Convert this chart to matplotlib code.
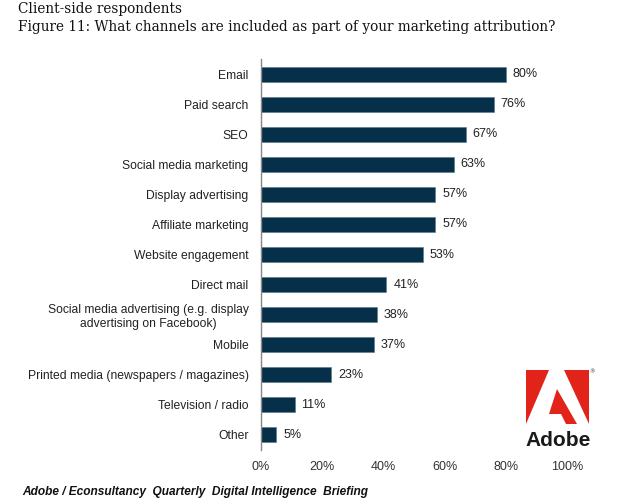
import matplotlib
matplotlib.use("Agg")
import matplotlib.pyplot as plt
from matplotlib.patches import Polygon

categories = ["Email", "Paid search", "SEO", "Social media marketing",
              "Display advertising", "Affiliate marketing", "Website engagement",
              "Direct mail", "Social media advertising (e.g. display\nadvertising on Facebook)",
              "Mobile", "Printed media (newspapers / magazines)", "Television / radio", "Other"]
values = [80, 76, 67, 63, 57, 57, 53, 41, 38, 37, 23, 11, 5]
xticks = [0, 20, 40, 60, 80, 100]
xticklabels = ["0%", "20%", "40%", "60%", "80%", "100%"]

W, H = 622, 501
fig = plt.figure(figsize=(W / 100, H / 100), dpi=100)
fig.patch.set_facecolor("white")

ax = fig.add_axes([261 / W, 1 - 450 / H, (567 - 261) / W, (450 - 59) / H])
y = list(range(len(categories)))
ax.barh(y, values, height=0.5, color="#06304a", edgecolor="#5a7585", linewidth=0.4)
ax.set_ylim(len(categories) - 0.5, -0.5)
ax.set_xlim(0, 100)
ax.set_yticks(y)
ax.set_yticklabels(categories, fontsize=8.75, family="Liberation Sans", color="#222222",
                   multialignment="center")
ax.set_xticks(xticks)
ax.set_xticklabels(xticklabels, fontsize=9, family="Liberation Sans", color="#333333")
ax.tick_params(axis="y", length=0, pad=9)
ax.tick_params(axis="x", length=0, pad=8)
for s in ["top", "right", "bottom"]:
    ax.spines[s].set_visible(False)
ax.spines["left"].set_color("#888888")
ax.spines["left"].set_linewidth(1)

for yi, v in zip(y, values):
    ax.text(v + 2.2, yi, f"{v}%", va="center", ha="left", fontsize=9,
            family="Liberation Sans", color="#222222")

fig.text(18 / W, 1 - 9 / H, "Client-side respondents", fontsize=9.8,
         family="DejaVu Serif", va="center", ha="left", color="#111111")
fig.text(18 / W, 1 - 27 / H,
         "Figure 11: What channels are included as part of your marketing attribution?",
         fontsize=9.8, family="DejaVu Serif", va="center", ha="left", color="#111111")

fig.text(22 / W, 1 - 492 / H,
         "Adobe / Econsultancy  Quarterly  Digital Intelligence  Briefing",
         fontsize=8.6, family="Liberation Sans", weight="bold", style="italic",
         va="center", ha="left", color="#111111")

# Adobe logo
red = "#e2231a"
def P(pts):
    return Polygon([(x / W, 1 - yy / H) for x, yy in pts], closed=True,
                   transform=fig.transFigure, facecolor=red, edgecolor="none")
fig.patches.append(P([(526, 370), (549, 370), (526, 424)]))
fig.patches.append(P([(564, 370), (589, 370), (589, 424)]))
fig.patches.append(P([(557, 389), (577, 424), (566, 424), (561, 414), (549, 414)]))
fig.text(558 / W, 1 - 440 / H, "Adobe", fontsize=15, weight="bold",
         family=["Liberation Sans Narrow", "Liberation Sans"], ha="center", va="center",
         color="#1a1a1a")
fig.text(592 / W, 1 - 372 / H, "®", fontsize=4, ha="center", va="center", color="#333333")

fig.savefig("out.png", dpi=100, facecolor="white")
